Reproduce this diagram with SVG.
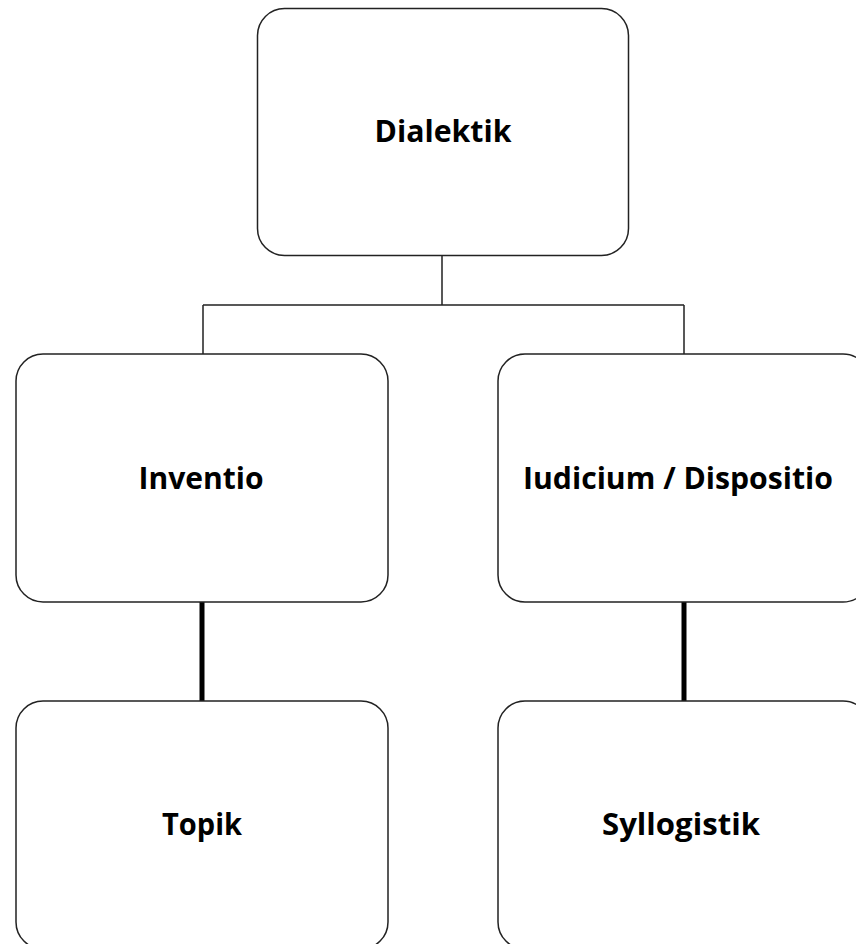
<svg xmlns="http://www.w3.org/2000/svg" width="856" height="944" viewBox="0 0 856 944">
<style>
.box{fill:#fff;stroke:#222;stroke-width:1.5}
.lbl{font-family:"Open Sans","Liberation Sans",sans-serif;font-weight:bold;font-size:31px;fill:#000;text-anchor:middle}
.thin{fill:none;stroke:#222;stroke-width:1.5}
.thick{fill:none;stroke:#000;stroke-width:5}
</style>
<rect width="856" height="944" fill="#fff"/>
<g id="connectors">
<path class="thin" d="M442 256 V305 M203 305 H684 M203 305 V354 M684 305 V354"/>
<path class="thick" d="M202 602 V701 M684 602 V701"/>
</g>
<g id="dialektik">
<rect class="box" x="257.5" y="8.5" width="371" height="247" rx="27"/>
<text class="lbl" x="443" y="142" textLength="137" lengthAdjust="spacingAndGlyphs">Dialektik</text>
</g>
<g id="inventio">
<rect class="box" x="16" y="354" width="372" height="248" rx="27"/>
<text class="lbl" x="201" y="489" textLength="125" lengthAdjust="spacingAndGlyphs">Inventio</text>
</g>
<g id="iudicium">
<rect class="box" x="498" y="354" width="372" height="248" rx="27"/>
<text class="lbl" x="678" y="489" textLength="310" lengthAdjust="spacingAndGlyphs">Iudicium / Dispositio</text>
</g>
<g id="topik">
<rect class="box" x="16" y="701" width="372" height="248" rx="27"/>
<text class="lbl" x="202" y="835" textLength="80" lengthAdjust="spacingAndGlyphs">Topik</text>
</g>
<g id="syllogistik">
<rect class="box" x="498" y="701" width="372" height="248" rx="27"/>
<text class="lbl" x="681" y="835" textLength="158" lengthAdjust="spacingAndGlyphs">Syllogistik</text>
</g>
</svg>
